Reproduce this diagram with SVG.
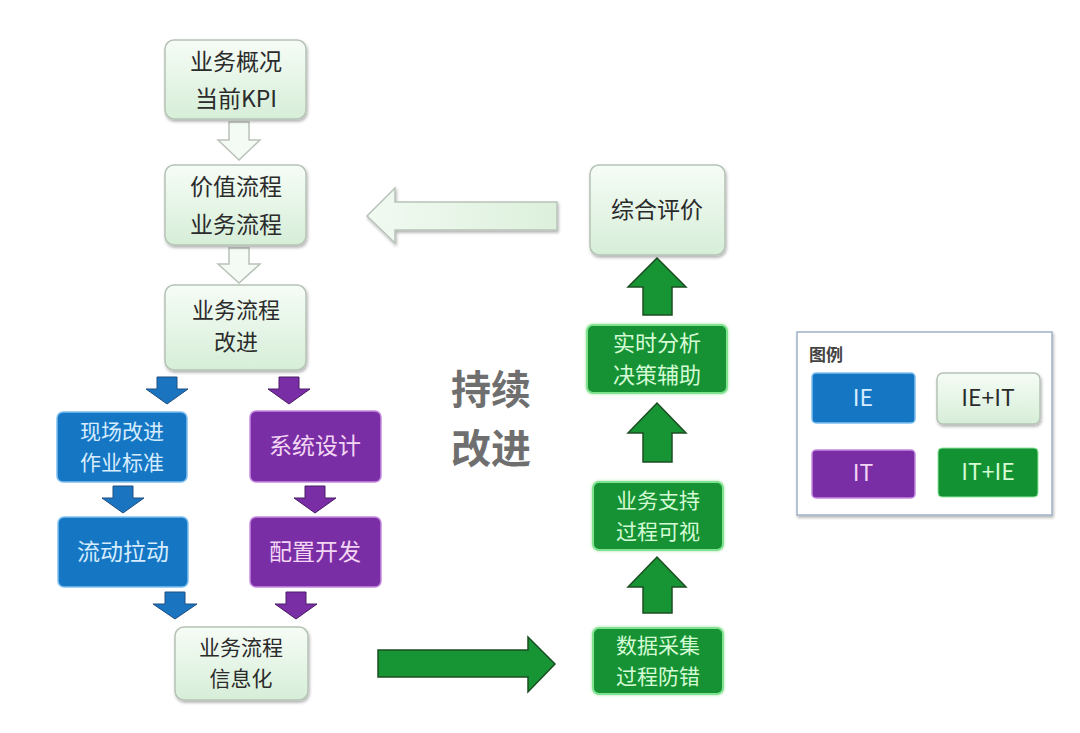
<svg xmlns="http://www.w3.org/2000/svg" width="1080" height="733" viewBox="0 0 1080 733">
<defs>
<linearGradient id="lg" x1="0" y1="0" x2="0" y2="1">
<stop offset="0" stop-color="#f6fcf6"/>
<stop offset="1" stop-color="#d6eed8"/>
</linearGradient>
<linearGradient id="lgh" x1="0" y1="0" x2="1" y2="0">
<stop offset="0" stop-color="#f2faf2"/>
<stop offset="1" stop-color="#dcf0dc"/>
</linearGradient>
<filter id="sh" x="-10%" y="-10%" width="125%" height="130%">
<feDropShadow dx="1" dy="2" stdDeviation="1.5" flood-color="#000" flood-opacity="0.3"/>
</filter>
<filter id="glow" x="-10%" y="-10%" width="120%" height="120%">
<feDropShadow dx="0" dy="0" stdDeviation="1.5" flood-color="#9fe09f" flood-opacity="0.9"/>
</filter>
</defs>
<style>
.t{font-family:"Noto Sans CJK SC","Noto Sans",sans-serif;font-size:23px;text-anchor:middle}
.s{font-size:21px}
.m{font-size:22px}
.dk{fill:#2b2b2b}
.lb{fill:#d6ecff}
.lp{fill:#f3d6f3}
.lgn{fill:#d4fbd4}
.light{fill:url(#lg);stroke:#b5c2b5;stroke-width:1.5;filter:url(#sh)}
.blue{fill:#1577c4;stroke:#7fc0ef;stroke-width:1.5}
.purple{fill:#7a2ea6;stroke:#c58be0;stroke-width:1.5}
.green{fill:#139234;stroke:#7fe28f;stroke-width:2;filter:url(#glow)}
.ab{fill:#1a74c0;stroke:#1f4e80;stroke-width:1}
.ap{fill:#7a2ea6;stroke:#4a1a66;stroke-width:1}
.ag{fill:#179534;stroke:#1b4d22;stroke-width:1.5}
.ah{fill:#f4faf4;stroke:#b9c2b9;stroke-width:1.5}
.big{font-family:"Noto Sans CJK SC",sans-serif;font-size:40px;font-weight:bold;fill:#6f6f6f;text-anchor:middle}
</style>
<rect width="1080" height="733" fill="#ffffff"/>

<g id="connectors">
<polygon class="ah" points="229,122 249,122 249,140 260,140 239,160 218,140 229,140"/>
<polygon class="ah" points="229,248 249,248 249,264 260,264 239,283 218,264 229,264"/>
<polygon points="557,202 557,230 395,230 395,243 367,216 395,188 395,202" fill="url(#lgh)" stroke="#b9c2b9" stroke-width="1.5" filter="url(#sh)"/>
<polygon class="ab" points="157,377 177,377 177,389 188,389 167,404 146,389 157,389"/>
<polygon class="ap" points="279,377 299,377 299,389 310,389 289,404 268,389 279,389"/>
<polygon class="ab" points="113,486 133,486 133,498 144,498 123,513 102,498 113,498"/>
<polygon class="ap" points="305,486 325,486 325,498 336,498 315,513 294,498 305,498"/>
<polygon class="ab" points="165,592 185,592 185,604 197,604 175,619 153,604 165,604"/>
<polygon class="ap" points="286,592 306,592 306,604 317,604 296,619 275,604 286,604"/>
<polygon class="ag" points="378,650 528,650 528,637 555,664 528,692 528,677 378,677"/>
<polygon class="ag" points="643,315 672,315 672,287 686,287 657,258 628,287 643,287"/>
<polygon class="ag" points="643,462 672,462 672,433 686,433 657,403 628,433 643,433"/>
<polygon class="ag" points="643,613 672,613 672,587 686,587 657,557 628,587 643,587"/>
</g>

<g id="n1">
<rect class="light" x="165" y="40" width="141" height="79" rx="9"/>
<text class="t dk" x="236" y="70">业务概况</text>
<text class="t dk" x="236" y="107">当前KPI</text>
</g>
<g id="n2">
<rect class="light" x="165" y="165" width="141" height="80" rx="9"/>
<text class="t dk" x="236" y="195">价值流程</text>
<text class="t dk" x="236" y="233">业务流程</text>
</g>
<g id="n3">
<rect class="light" x="165" y="285" width="141" height="85" rx="9"/>
<text class="t m dk" x="236" y="318">业务流程</text>
<text class="t m dk" x="236" y="350">改进</text>
</g>
<g id="n4">
<rect class="blue" x="57" y="412" width="130" height="70" rx="6"/>
<text class="t s lb" x="122" y="439">现场改进</text>
<text class="t s lb" x="122" y="470">作业标准</text>
</g>
<g id="n5">
<rect class="blue" x="58" y="517" width="130" height="70" rx="6"/>
<text class="t lb" x="123" y="560">流动拉动</text>
</g>
<g id="n6">
<rect class="purple" x="250" y="411" width="131" height="71" rx="6"/>
<text class="t lp" x="315" y="454">系统设计</text>
</g>
<g id="n7">
<rect class="purple" x="250" y="517" width="131" height="70" rx="6"/>
<text class="t lp" x="315" y="560">配置开发</text>
</g>
<g id="n8">
<rect class="light" x="175" y="627" width="133" height="73" rx="9"/>
<text class="t s dk" x="241" y="655">业务流程</text>
<text class="t s dk" x="241" y="686">信息化</text>
</g>
<g id="n9">
<rect class="light" x="590" y="165" width="135" height="90" rx="9"/>
<text class="t dk" x="657" y="218">综合评价</text>
</g>
<g id="n10">
<rect class="green" x="587" y="325" width="140" height="68" rx="6"/>
<text class="t m lgn" x="657" y="351">实时分析</text>
<text class="t m lgn" x="657" y="383">决策辅助</text>
</g>
<g id="n11">
<rect class="green" x="593" y="482" width="130" height="68" rx="6"/>
<text class="t s lgn" x="658" y="508">业务支持</text>
<text class="t s lgn" x="658" y="539">过程可视</text>
</g>
<g id="n12">
<rect class="green" x="593" y="628" width="130" height="66" rx="6"/>
<text class="t s lgn" x="658" y="653">数据采集</text>
<text class="t s lgn" x="658" y="684">过程防错</text>
</g>

<g id="label">
<text class="big" x="491" y="404">持续</text>
<text class="big" x="491" y="463">改进</text>
</g>

<g id="legend">
<rect x="797" y="332" width="255" height="183" fill="#ffffff" stroke="#9fb3c8" stroke-width="1.5" filter="url(#sh)"/>
<text x="809" y="361" font-family="'Noto Sans CJK SC',sans-serif" font-size="17" font-weight="bold" fill="#444">图例</text>
<rect class="blue" x="812" y="373" width="103" height="50" rx="4" stroke="none"/>
<text class="t lb" x="863" y="406" font-size="20">IE</text>
<rect class="light" x="937" y="373" width="103" height="51" rx="6"/>
<text class="t dk" x="988" y="406" font-size="20">IE+IT</text>
<rect class="purple" x="812" y="450" width="103" height="48" rx="4"/>
<text class="t lp" x="863" y="481" font-size="20">IT</text>
<rect x="938" y="448" width="100" height="49" rx="4" fill="#139234" stroke="#8fe89f" stroke-width="1"/>
<text class="t lgn" x="988" y="480" font-size="20">IT+IE</text>
</g>
</svg>
